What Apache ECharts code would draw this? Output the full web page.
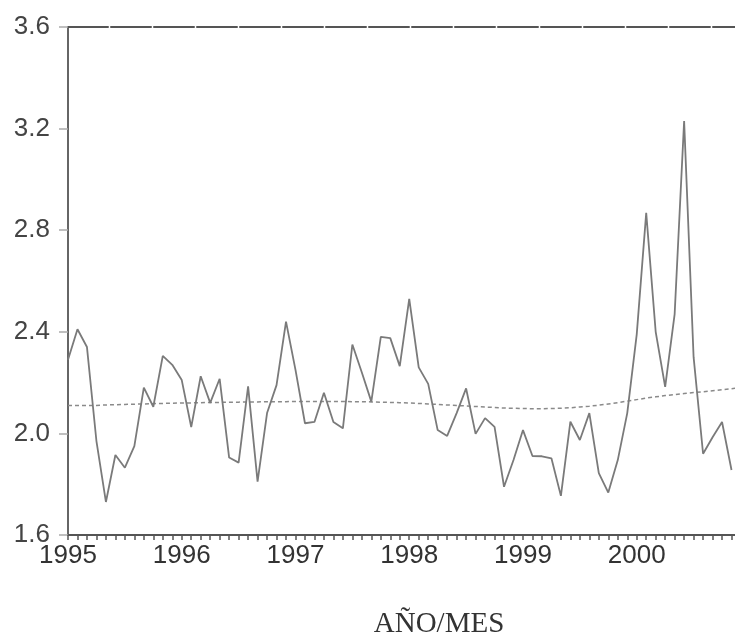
<!DOCTYPE html>
<html>
<head>
<meta charset="utf-8">
<script src="https://cdn.jsdelivr.net/npm/echarts@6/dist/echarts.min.js"></script>
<style>html,body{margin:0;padding:0;background:#fff;}#c{width:735px;height:639px;}</style>
</head>
<body>
<div id="c"></div>
<script>
var years = ['1995','1996','1997','1998','1999','2000'];
var months = ['01','02','03','04','05','06','07','08','09','10','11','12'];
var yTicks = {min: 1.6, max: 3.6, interval: 0.4};
var xTitle = 'AÑO/MES';

var serie = [
  2.29, 2.41, 2.34, 1.97, 1.73, 1.915, 1.865, 1.95, 2.18, 2.105, 2.305, 2.27,
  2.21, 2.025, 2.225, 2.12, 2.215, 1.905, 1.885, 2.185, 1.81, 2.08, 2.19, 2.44,
  2.25, 2.04, 2.045, 2.16, 2.045, 2.02, 2.35, 2.24, 2.125, 2.38, 2.375, 2.265,
  2.53, 2.26, 2.195, 2.013, 1.99, 2.08, 2.177, 1.998, 2.06, 2.026, 1.79, 1.895,
  2.013, 1.911, 1.91, 1.902, 1.754, 2.046, 1.974, 2.08, 1.844, 1.767, 1.895, 2.08,
  2.39, 2.868, 2.40, 2.183, 2.47, 3.23, 2.30, 1.92, 1.985, 2.045, 1.856
];
var tendencia = [
  2.11, 2.11, 2.11, 2.11, 2.112, 2.113, 2.114, 2.115, 2.116, 2.117, 2.118, 2.119,
  2.12, 2.12, 2.121, 2.122, 2.122, 2.123, 2.123, 2.124, 2.124, 2.125, 2.125, 2.125,
  2.126, 2.126, 2.126, 2.126, 2.126, 2.126, 2.125, 2.125, 2.124, 2.123, 2.122, 2.121,
  2.12, 2.118, 2.116, 2.114, 2.112, 2.11, 2.108, 2.106, 2.104, 2.102, 2.1, 2.099,
  2.098, 2.097, 2.097, 2.098, 2.099, 2.101, 2.104, 2.107, 2.111, 2.116, 2.121, 2.127,
  2.133, 2.139, 2.144, 2.149, 2.153, 2.157, 2.161, 2.164, 2.168, 2.172, 2.176, 2.18
];

var categories = [];
years.forEach(function(y){ months.forEach(function(m){ categories.push(y + 'M' + m); }); });

var chart = echarts.init(document.getElementById('c'), null, {renderer: 'canvas'});
chart.setOption({
  animation: false,
  backgroundColor: '#ffffff',
  title: {
    text: xTitle, left: 434, top: 605, textAlign: 'center',
    textStyle: {fontFamily: 'Liberation Serif', fontSize: 29, fontWeight: 'normal', color: '#333'}
  },
  grid: {left: 68, width: 673, top: 27, height: 508, containLabel: false, outerBoundsMode: 'none'},
  xAxis: [{
    type: 'category', data: categories, boundaryGap: false, position: 'bottom',
    axisLine: {lineStyle: {color: '#555', width: 2}},
    axisTick: {show: true, interval: 0, length: 5, inside: false, lineStyle: {color: '#555', width: 1.5}},
    axisLabel: {
      interval: 0, margin: 8, fontFamily: 'Liberation Sans', fontSize: 26,
      lineHeight: 26, color: '#333',
      formatter: function(v){ return v.slice(5) === '01' ? v.slice(0,4) : ''; }
    },
    splitLine: {show: false}
  }, {
    type: 'category', data: categories, boundaryGap: false, position: 'top',
    axisLine: {lineStyle: {color: '#555', width: 2, type: [40, 3]}},
    axisTick: {show: false}, axisLabel: {show: false}, splitLine: {show: false}
  }],
  yAxis: {
    type: 'value', min: yTicks.min, max: yTicks.max, interval: yTicks.interval,
    axisLine: {show: true, lineStyle: {color: '#666', width: 2}},
    axisTick: {show: true, length: 9, lineStyle: {color: '#aaa', width: 1.5}},
    axisLabel: {
      margin: 18, fontFamily: 'Liberation Sans', fontSize: 26, color: '#444',
      formatter: function(v){ return v.toFixed(1); }
    },
    splitLine: {show: false}
  },
  series: [{
    type: 'line', data: serie, symbol: 'none', smooth: false,
    lineStyle: {color: '#7a7a7a', width: 1.8}, z: 3
  }, {
    type: 'line', data: tendencia, symbol: 'none', smooth: false,
    lineStyle: {color: '#8a8a8a', width: 1.5, type: [4, 3]}, z: 2
  }]
});
</script>
</body>
</html>
